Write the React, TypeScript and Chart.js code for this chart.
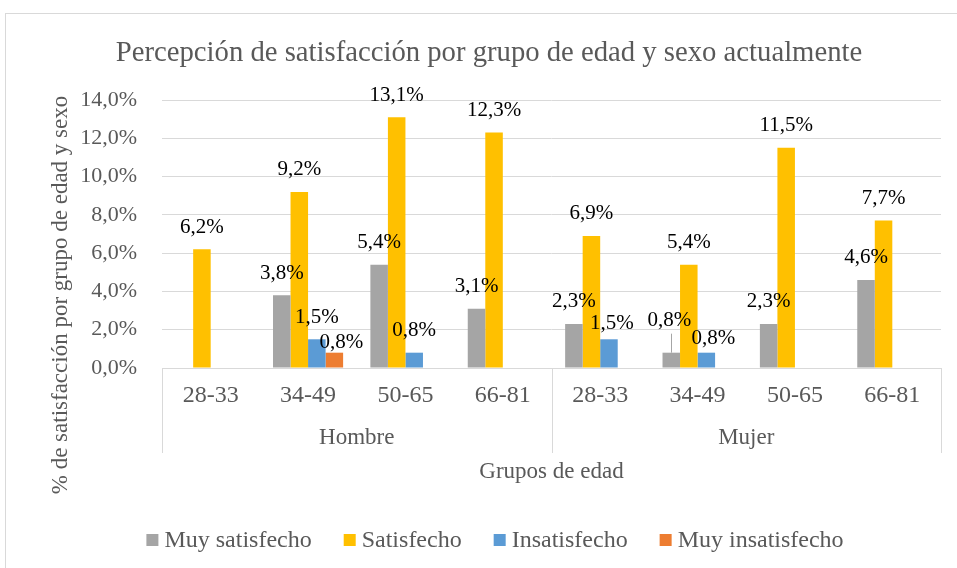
import React, { useEffect, useRef } from "react";
import { Chart, registerables } from "chart.js";

Chart.register(...registerables);

const chartTitle = "Percepción de satisfacción por grupo de edad y sexo actualmente";
const yAxisTitle = "% de satisfacción por grupo de edad y sexo";
const xAxisTitle = "Grupos de edad";

const ageGroups = ["28-33", "34-49", "50-65", "66-81", "28-33", "34-49", "50-65", "66-81"];
const sexGroups = ["Hombre", "Mujer"];
const yTicks = [0, 2, 4, 6, 8, 10, 12, 14];

const seriesNames = ["Muy satisfecho", "Satisfecho", "Insatisfecho", "Muy insatisfecho"];
const muySatisfecho = [null, 3.8, 5.4, 3.1, 2.3, 0.8, 2.3, 4.6];
const satisfecho = [6.2, 9.2, 13.1, 12.3, 6.9, 5.4, 11.5, 7.7];
const insatisfecho = [null, 1.5, 0.8, null, 1.5, 0.8, null, null];
const muyInsatisfecho = [null, 0.8, null, null, null, null, null, null];

const seriesColors = ["#A5A5A5", "#FFC000", "#5B9BD5", "#ED7D31"];

const FONT = '"Liberation Serif", "Times New Roman", serif';
const TEXT = "#595959";
const GRID = "#d9d9d9";

// label nudges (dataset-index) for labels that were moved manually in the original
const labelNudges: Record<string, { dx: number; dy: number; leader?: boolean }> = {
  "3-1": { dx: 7, dy: 12 },
  "2-4": { dx: 3, dy: 6 },
  "2-5": { dx: 7, dy: 8 },
  "0-5": { dx: -2, dy: -10, leader: true },
};

const fmt = (v: number) => v.toFixed(1).replace(".", ",") + "%";

const overlayPlugin = {
  id: "overlay",
  afterDraw(chart: any) {
    const ctx = chart.ctx as CanvasRenderingContext2D;
    const ca = chart.chartArea;
    const xs = chart.scales.x;
    ctx.save();

    // title
    ctx.fillStyle = TEXT;
    ctx.textAlign = "center";
    ctx.textBaseline = "middle";
    ctx.font = `28.7px ${FONT}`;
    ctx.fillText(chartTitle, 489, 53);

    // y axis title
    ctx.save();
    ctx.translate(61, 295);
    ctx.rotate(-Math.PI / 2);
    ctx.font = `23px ${FONT}`;
    ctx.fillText(yAxisTitle, 0, 0);
    ctx.restore();

    // group separators
    const per = ageGroups.length / sexGroups.length;
    const bounds: number[] = [];
    for (let g = 0; g <= sexGroups.length; g++) {
      let x: number;
      if (g === 0) x = ca.left;
      else if (g === sexGroups.length) x = ca.right;
      else x = (xs.getPixelForValue(g * per - 1) + xs.getPixelForValue(g * per)) / 2;
      bounds.push(x);
    }
    ctx.strokeStyle = GRID;
    ctx.lineWidth = 1;
    bounds.forEach((x) => {
      const px = Math.round(x) + 0.5;
      ctx.beginPath();
      ctx.moveTo(px, ca.bottom);
      ctx.lineTo(px, ca.bottom + 85);
      ctx.stroke();
    });

    // group labels
    ctx.font = `23px ${FONT}`;
    ctx.fillStyle = TEXT;
    sexGroups.forEach((s, i) => ctx.fillText(s, (bounds[i] + bounds[i + 1]) / 2, ca.bottom + 70));

    // x axis title
    ctx.fillText(xAxisTitle, (ca.left + ca.right) / 2, ca.bottom + 104);

    // data labels
    ctx.font = `21px ${FONT}`;
    chart.data.datasets.forEach((ds: any, di: number) => {
      const meta = chart.getDatasetMeta(di);
      meta.data.forEach((el: any, i: number) => {
        const v = ds.data[i];
        if (v == null || v === 0) return;
        const n = labelNudges[`${di}-${i}`] || { dx: 0, dy: 0 };
        const lx = el.x + n.dx;
        const ly = el.y - 22 + n.dy;
        if (n.leader) {
          ctx.strokeStyle = "#a6a6a6";
          ctx.beginPath();
          ctx.moveTo(Math.round(el.x) + 0.5, ly + 13);
          ctx.lineTo(Math.round(el.x) + 0.5, el.y);
          ctx.stroke();
        }
        ctx.fillStyle = "#000";
        ctx.fillText(fmt(v), lx, ly);
      });
    });

    // legend
    ctx.font = `24px ${FONT}`;
    const box = 12, gapText = 6, gapItem = 32;
    const widths = chart.data.datasets.map((ds: any) => box + gapText + ctx.measureText(ds.label).width);
    const total = widths.reduce((a: number, b: number) => a + b, 0) + gapItem * (widths.length - 1);
    let x = 495 - total / 2;
    const ly = 540;
    ctx.textAlign = "left";
    chart.data.datasets.forEach((ds: any, di: number) => {
      ctx.fillStyle = ds.backgroundColor;
      ctx.fillRect(x, ly - box / 2, box, box);
      ctx.fillStyle = TEXT;
      ctx.fillText(ds.label, x + box + gapText, ly + 1);
      x += widths[di] + gapItem;
    });

    ctx.restore();
  },
};

export default function App() {
  const ref = useRef<HTMLCanvasElement>(null);

  useEffect(() => {
    if (!ref.current) return;
    const seriesData = [muySatisfecho, satisfecho, insatisfecho, muyInsatisfecho];
    const chart = new Chart(ref.current, {
      type: "bar",
      data: {
        labels: ageGroups,
        datasets: seriesNames.map((name, i) => ({
          label: name,
          data: seriesData[i],
          backgroundColor: seriesColors[i],
          borderWidth: 0,
          barPercentage: 1,
          categoryPercentage: 0.72,
        })),
      },
      options: {
        responsive: false,
        devicePixelRatio: 1,
        animation: false,
        layout: { padding: { left: 82, right: 16, top: 100, bottom: 100 } },
        plugins: {
          legend: { display: false },
          title: { display: false },
          tooltip: { enabled: false },
        },
        scales: {
          x: {
            grid: { display: false, drawTicks: false },
            border: { display: true, color: GRID },
            ticks: {
              font: { family: FONT, size: 24 },
              color: TEXT,
              padding: 13,
              maxRotation: 0,
              autoSkip: false,
            },
            afterFit: (s: any) => {
              s.height = 100;
            },
          },
          y: {
            min: 0,
            max: 14,
            grid: { color: GRID, drawTicks: false },
            border: { display: false },
            ticks: {
              font: { family: FONT, size: 22 },
              color: TEXT,
              padding: 25,
              callback: (v: any) => fmt(Number(v)),
            },
            afterBuildTicks: (s: any) => {
              s.ticks = yTicks.map((v) => ({ value: v }));
            },
            afterFit: (s: any) => {
              s.width = 80;
            },
          },
        },
      },
      plugins: [overlayPlugin],
    } as any);
    return () => chart.destroy();
  }, []);

  return (
    <div style={{ position: "fixed", left: 0, top: 0, right: 0, bottom: 0, overflow: "hidden", background: "#fff" }}>
      <div
        style={{
          position: "absolute",
          left: 5,
          top: 13,
          width: 1000,
          height: 620,
          border: "1px solid #d9d9d9",
          boxSizing: "border-box",
        }}
      />
      <canvas ref={ref} width={957} height={568} style={{ position: "absolute", left: 0, top: 0, display: "block" }} />
    </div>
  );
}
